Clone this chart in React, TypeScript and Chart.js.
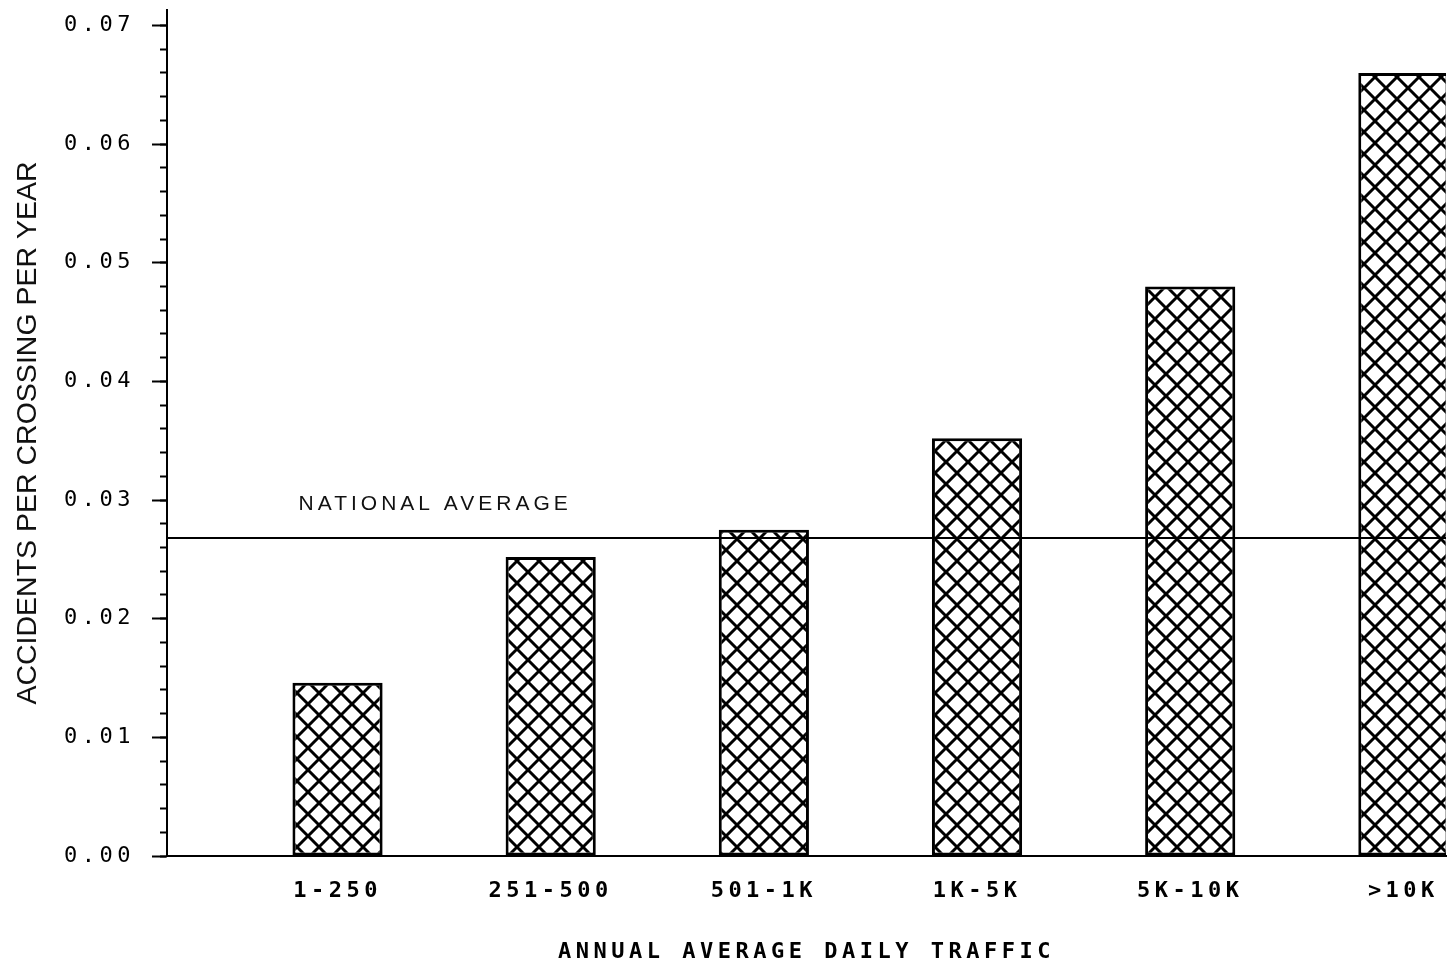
import React, { useEffect, useRef } from 'react';
import { Chart, registerables } from 'chart.js';

Chart.register(...registerables);

// ---- data ----
const CATEGORIES = ['1-250', '251-500', '501-1K', '1K-5K', '5K-10K', '>10K'];
const ACCIDENT_RATES = [0.0146, 0.0252, 0.0275, 0.0352, 0.048, 0.066];
const NATIONAL_AVERAGE = 0.0268;
const NATIONAL_AVERAGE_LABEL = 'NATIONAL AVERAGE';
const Y_TICK_VALUES = [0, 0.01, 0.02, 0.03, 0.04, 0.05, 0.06, 0.07];
const Y_TICK_LABELS = ['0.00', '0.01', '0.02', '0.03', '0.04', '0.05', '0.06', '0.07'];
const Y_TITLE = 'ACCIDENTS PER CROSSING PER YEAR';
const X_TITLE = 'ANNUAL AVERAGE DAILY TRAFFIC';

// axis ranges
const X_MIN = -0.8;
const X_MAX = 5.2;
const Y_MIN = 0;
const Y_MAX = 0.0713;
const Y_MINOR_STEP = 0.002;

function makeHatch(): CanvasPattern | string {
  const s = 22;
  const c = document.createElement('canvas');
  c.width = s;
  c.height = s;
  const g = c.getContext('2d');
  if (!g) return '#fff';
  g.fillStyle = '#fff';
  g.fillRect(0, 0, s, s);
  g.strokeStyle = '#000';
  g.lineWidth = 3;
  g.beginPath();
  for (const o of [-s, 0, s]) {
    g.moveTo(o, 0);
    g.lineTo(o + s, s);
    g.moveTo(o + s, 0);
    g.lineTo(o, s);
  }
  g.stroke();
  const p = g.createPattern(c, 'repeat');
  return p || '#fff';
}

const plotterPlugin = {
  id: 'plotterText',
  beforeDraw(chart: any) {
    chart.ctx.letterSpacing = '0px';
  },
  afterDatasetsDraw(chart: any) {
    chart.ctx.letterSpacing = '4.5px';
  },
  afterDraw(chart: any) {
    const { ctx, scales } = chart;
    const xs = scales.x;
    const ys = scales.y;
    ctx.save();
    ctx.letterSpacing = '4px';
    ctx.font = '21px "Liberation Sans"';
    ctx.fillStyle = '#111';
    ctx.textAlign = 'left';
    ctx.textBaseline = 'alphabetic';
    ctx.fillText(NATIONAL_AVERAGE_LABEL, xs.getPixelForValue(-0.183), ys.getPixelForValue(NATIONAL_AVERAGE) - 28);
    ctx.restore();
    ctx.letterSpacing = '0px';
  },
};

export default function App() {
  const ref = useRef<HTMLCanvasElement | null>(null);

  useEffect(() => {
    if (!ref.current) return;
    const hatch = makeHatch();
    const chart = new Chart(ref.current, {
      type: 'bar',
      data: {
        datasets: [
          {
            type: 'line',
            label: NATIONAL_AVERAGE_LABEL,
            data: [
              { x: X_MIN, y: NATIONAL_AVERAGE },
              { x: X_MAX, y: NATIONAL_AVERAGE },
            ],
            borderColor: '#000',
            borderWidth: 1.8,
            pointRadius: 0,
            order: -1,
            yAxisID: 'y',
          } as any,
          {
            type: 'bar',
            label: 'Accidents per crossing per year',
            data: CATEGORIES.map((_, i) => ({ x: i, y: ACCIDENT_RATES[i] })),
            backgroundColor: hatch as any,
            borderColor: '#000',
            borderWidth: 3,
            borderSkipped: false,
            barPercentage: 0.423,
            categoryPercentage: 1,
            order: 1,
            yAxisID: 'y',
          } as any,
        ],
      },
      options: {
        responsive: true,
        maintainAspectRatio: false,
        animation: false,
        layout: { padding: { top: 10, right: 10, left: 0, bottom: 0 } },
        plugins: {
          legend: { display: false },
          tooltip: { enabled: false },
        },
        scales: {
          x: {
            type: 'linear',
            min: X_MIN,
            max: X_MAX,
            offset: false,
            afterBuildTicks: (s: any) => {
              s.ticks = CATEGORIES.map((_, i) => ({ value: i }));
            },
            afterFit: (s: any) => {
              s.height = 113;
              s.paddingLeft = 0;
              s.paddingRight = 0;
            },
            ticks: {
              z: 1,
              padding: 22,
              color: '#000',
              maxRotation: 0,
              autoSkip: false,
              font: { family: 'DejaVu Sans Mono', size: 22, weight: 'bold' },
              callback: (v: any) => CATEGORIES[Math.round(Number(v))] ?? '',
            },
            grid: { display: false, drawTicks: false, z: 1 },
            border: { display: true, width: 2, color: '#000', z: 1 },
            title: {
              display: true,
              text: X_TITLE,
              color: '#000',
              font: { family: 'DejaVu Sans Mono', size: 22, weight: 'bold' },
              padding: { top: 0, bottom: 4 },
            },
          } as any,
          y: {
            type: 'linear',
            position: 'left',
            weight: 1,
            min: Y_MIN,
            max: Y_MAX,
            afterBuildTicks: (s: any) => {
              s.ticks = Y_TICK_VALUES.map((v) => ({ value: v }));
            },
            afterFit: (s: any) => {
              s.width = 167;
              s.paddingTop = 0;
              s.paddingBottom = 0;
            },
            ticks: {
              z: 1,
              padding: 17,
              color: '#000',
              font: { family: 'DejaVu Sans Mono', size: 22 },
              callback: (_v: any, i: number) => Y_TICK_LABELS[i],
            },
            grid: {
              drawOnChartArea: false,
              drawTicks: true,
              tickLength: 15,
              tickWidth: 2,
              tickColor: '#000',
            },
            border: { display: true, width: 2, color: '#000' },
            title: {
              display: true,
              text: Y_TITLE,
              color: '#111',
              font: { family: 'Liberation Sans', size: 28.5 },
              padding: { top: 11, bottom: 0 },
            },
          } as any,
          yMinor: {
            type: 'linear',
            axis: 'y',
            position: 'left',
            weight: 0,
            min: Y_MIN,
            max: Y_MAX,
            ticks: { display: false, stepSize: Y_MINOR_STEP, includeBounds: false },
            afterFit: (s: any) => {
              s.width = 0;
              s.paddingTop = 0;
              s.paddingBottom = 0;
            },
            grid: {
              drawOnChartArea: false,
              drawTicks: true,
              tickLength: 7,
              tickWidth: 2,
              tickColor: '#000',
            },
            border: { display: false },
          } as any,
        },
      } as any,
      plugins: [plotterPlugin],
    });
    return () => chart.destroy();
  }, []);

  return (
    <div style={{ position: 'fixed', left: 0, top: 0, width: 1456, height: 969, background: '#fff' }}>
      <canvas ref={ref} />
    </div>
  );
}
